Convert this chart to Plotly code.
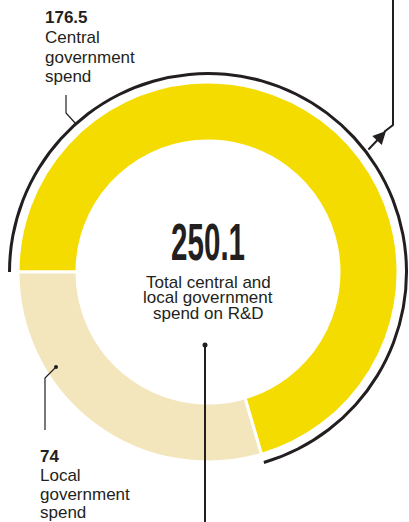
import plotly.graph_objects as go

# ---- data ----
categories = ["Central government spend", "Local government spend"]
values = [176.5, 74]
value_labels = ["176.5", "74"]
total_label = "250.1"
center_lines = ["Total central and", "local government", "spend on R&D"]
central_lines = ["Central", "government", "spend"]
local_lines = ["Local", "government", "spend"]

W, H = 409, 522
CX, CY, R = 208, 272, 190
INK = "#231F20"
YELLOW = "#F5DC00"
BEIGE = "#F3E5BC"


def px(x):
    return x / W


def py(y):
    return 1 - y / H


fig = go.Figure()

# main donut
fig.add_trace(go.Pie(
    labels=categories, values=values, sort=False, direction="clockwise",
    rotation=270, hole=131 / 190,
    marker=dict(colors=[YELLOW, BEIGE], line=dict(color="white", width=3)),
    textinfo="none", hoverinfo="label+value", showlegend=False,
    domain=dict(x=[px(CX - R), px(CX + R)], y=[py(CY + R), py(CY - R)]),
))

# outer thin arc around the central-government slice
R2 = 200
fig.add_trace(go.Pie(
    labels=categories, values=values, sort=False, direction="clockwise",
    rotation=270, hole=197 / 200,
    marker=dict(colors=[INK, "rgba(0,0,0,0)"], line=dict(color="rgba(0,0,0,0)", width=0)),
    textinfo="none", hoverinfo="skip", showlegend=False,
    domain=dict(x=[px(CX - R2), px(CX + R2)], y=[py(CY + R2), py(CY - R2)]),
))

shapes = []
line = dict(color=INK, width=1.2)
# top-left leader
shapes.append(dict(type="path", xref="paper", yref="paper",
                   path=f"M{px(66)},{py(95)} L{px(66)},{py(113)} L{px(76)},{py(124)}",
                   line=line))
# bottom-left leader
shapes.append(dict(type="path", xref="paper", yref="paper",
                   path=f"M{px(56)},{py(367)} L{px(45)},{py(378)} L{px(45)},{py(430)}",
                   line=line))
shapes.append(dict(type="circle", xref="paper", yref="paper",
                   x0=px(54), x1=px(58), y0=py(365), y1=py(369),
                   fillcolor=INK, line=dict(width=0)))
# centre leader going down
shapes.append(dict(type="path", xref="paper", yref="paper",
                   path=f"M{px(205)},{py(345)} L{px(205)},{py(530)}",
                   line=dict(color=INK, width=2)))
shapes.append(dict(type="circle", xref="paper", yref="paper",
                   x0=px(202.5), x1=px(207.5), y0=py(342.5), y1=py(347.5),
                   fillcolor=INK, line=dict(width=0)))
# top-right line
shapes.append(dict(type="path", xref="paper", yref="paper",
                   path=f"M{px(384)},{py(132)} L{px(393)},{py(125)} L{px(393)},{py(-10)}",
                   line=dict(color=INK, width=2)))

annotations = []
# arrow from arc outwards
annotations.append(dict(x=px(386), y=py(131), xref="paper", yref="paper",
                        ax=-19, ay=20, axref="pixel", ayref="pixel",
                        text="", showarrow=True, arrowhead=2, arrowsize=1.3,
                        arrowwidth=2, arrowcolor=INK))

SANS = "Liberation Sans, Arial, sans-serif"


def label(text, x, y, size=17, bold=False, anchor="left"):
    annotations.append(dict(
        x=px(x), y=py(y), xref="paper", yref="paper", xanchor=anchor,
        yanchor="middle", showarrow=False,
        text=f"<b>{text}</b>" if bold else text,
        font=dict(family=SANS, size=size, color=INK)))


label(value_labels[0], 43, 18, bold=True)
for i, t in enumerate(central_lines):
    label(t, 43, 38 + 19 * i)
label(value_labels[1], 38, 456, bold=True)
for i, t in enumerate(local_lines):
    label(t, 38, 475.5 + 18.5 * i)

annotations.append(dict(
    x=px(CX), y=py(242), xref="paper", yref="paper", xanchor="center",
    yanchor="middle", showarrow=False, text=total_label,
    font=dict(family=SANS, size=52, color=INK, weight="bold")))
for i, t in enumerate(center_lines):
    label(t, CX, 282 + 15.5 * i, size=17, anchor="center")

fig.update_layout(
    width=W, height=H, margin=dict(l=0, r=0, t=0, b=0),
    paper_bgcolor="white", plot_bgcolor="white",
    shapes=shapes, annotations=annotations,
)

post = """
document.body.style.margin = '0';
document.querySelectorAll('text.annotation-text').forEach(function (t) {
  if (t.textContent === '%s') {
    t.setAttribute('textLength', '74');
    t.setAttribute('lengthAdjust', 'spacingAndGlyphs');
  }
});
""" % total_label

fig.write_html("out.html", post_script=post, config={"displayModeBar": False})
